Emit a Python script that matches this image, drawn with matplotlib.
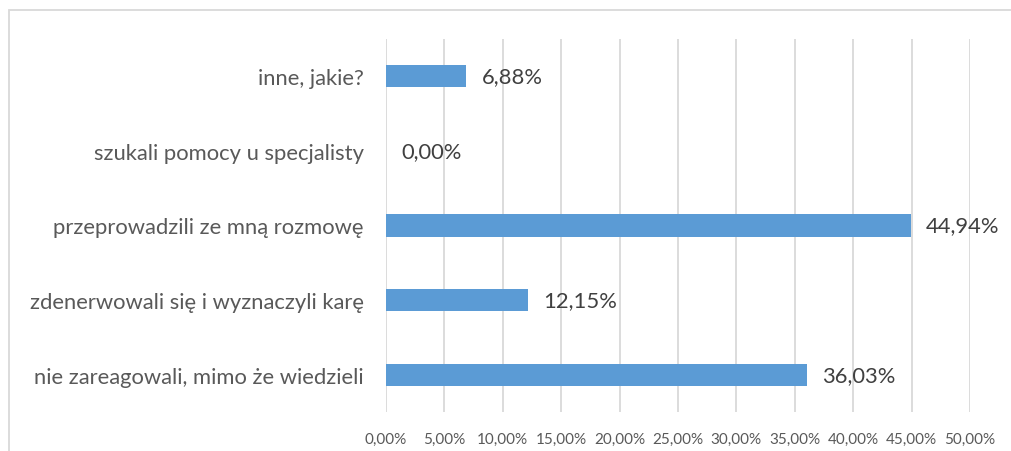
import matplotlib.pyplot as plt
from matplotlib.patches import Rectangle

# data (bottom to top)
categories = ["nie zareagowali, mimo że wiedzieli",
              "zdenerwowali się i wyznaczyli karę",
              "przeprowadzili ze mną rozmowę",
              "szukali pomocy u specjalisty",
              "inne, jakie?"]
values = [36.03, 12.15, 44.94, 0.00, 6.88]
ticks = [0, 5, 10, 15, 20, 25, 30, 35, 40, 45, 50]

plt.rcParams['font.family'] = ['Lato', 'DejaVu Sans']
txt = "#595959"

fig = plt.figure(figsize=(10.11, 4.52), dpi=100)
W, H = 1011, 452
ax = fig.add_axes([386 / W, 1 - 413 / H, (970 - 386) / W, (413 - 40) / H])

y = range(len(categories))
ax.barh(y, values, height=0.3, color="#5B9BD5", zorder=3)
for yi, v in zip(y, values):
    ax.text(v + 1.3, yi, f"{v:.2f}%".replace(".", ","), va="center", ha="left",
            fontsize=15.8, color="#404040")

ax.set_xlim(0, 50)
ax.set_ylim(-0.5, len(categories) - 0.5)
ax.set_xticks(ticks)
ax.set_xticklabels([f"{t:.2f}%".replace(".", ",") for t in ticks], fontsize=11, color=txt)
ax.set_yticks(list(y))
ax.set_yticklabels(categories, fontsize=15.8, color=txt)
ax.tick_params(axis="y", length=0, pad=16)
ax.tick_params(axis="x", length=0, pad=14)
ax.grid(axis="x", color="#D9D9D9", lw=1.3, zorder=0)
for s in ax.spines.values():
    s.set_visible(False)

# chart border (cut off at right/bottom)
fig.patches.append(Rectangle((8.5 / W, -0.05), 1.05, 1 - 10.5 / H + 0.05,
                             transform=fig.transFigure, fill=False,
                             edgecolor="#D9D9D9", lw=1.3))

fig.savefig("out.png", dpi=100)
